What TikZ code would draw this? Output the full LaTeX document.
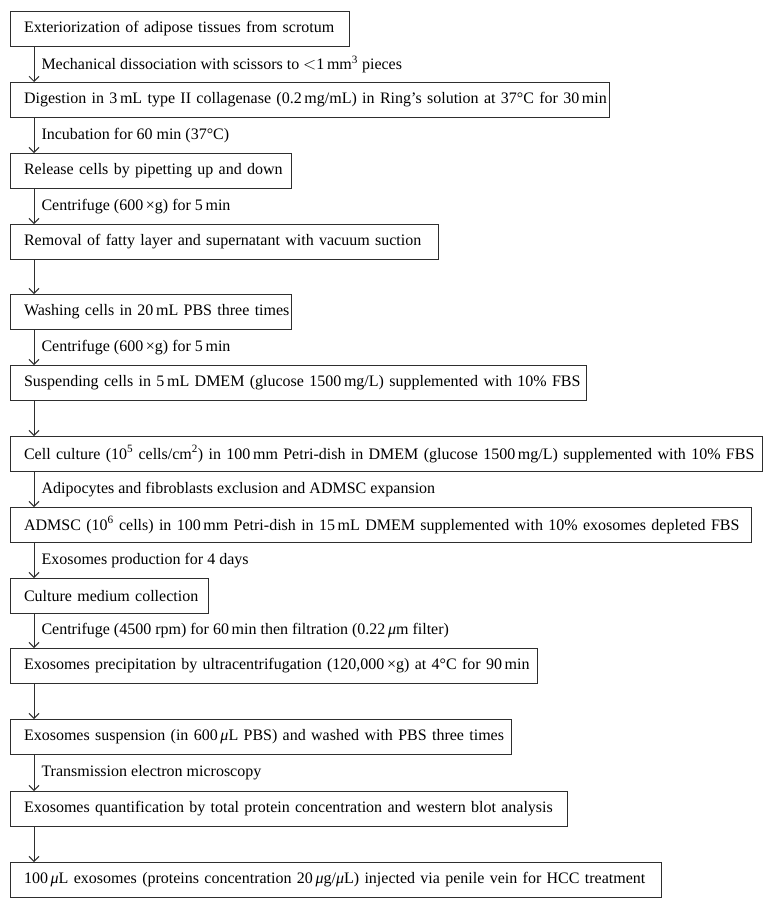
\documentclass[tikz,border=0pt]{standalone}
\usepackage{fontspec}
\setmainfont{Liberation Serif}
\usepackage{tikz}
\usetikzlibrary{arrows.meta}
\usetikzlibrary{positioning, calc}

\definecolor{linegray}{HTML}{2E2E2E}
\hfuzz=50pt
\tikzset{
    stepbox/.style={draw=linegray, line width=1.1pt, anchor=north west, inner xsep=13.5pt,
        inner ysep=0pt, minimum height=35pt, align=left, text=black,
        execute at begin node={\leavevmode\hbox\bgroup}, execute at end node={\egroup}},
    flow/.style={draw=linegray, line width=1pt, -{Straight Barb[length=5pt,width=10pt]}},
    steplabel/.style={anchor=west, inner xsep=7pt, text=black}
}

\begin{document}
\begin{tikzpicture}[x=1pt, y=-1pt, font=\fontsize{16}{19}\selectfont]
    \useasboundingbox (0,0) rectangle (774,907);
    \fill[white] (0,0) rectangle (774,907);
    \coordinate (ax) at (34,0);

    \begin{scope}[every node/.style={stepbox}]
    \node[text width=312pt] (S1) at (10,11) {Exteriorization of adipose tissues from scrotum};
    \node[text width=572pt] (S2) at (10,82) {Digestion in 3\,mL type II collagenase (0.2\,mg/mL) in Ring’s solution at 37\textdegree C for 30\,min};
    \node[text width=254pt] (S3) at (10,153) {Release cells by pipetting up and down};
    \node[text width=401pt] (S4) at (10,224) {Removal of fatty layer and supernatant with vacuum suction};
    \node[text width=254pt] (S5) at (10,294) {Washing cells in 20\,mL PBS three times};
    \node[text width=549pt] (S6) at (10,365) {Suspending cells in 5\,mL DMEM (glucose 1500\,mg/L) supplemented with 10\% FBS};
    \node[text width=725pt] (S7) at (10,436) {Cell culture (10\textsuperscript{5} cells/cm\textsuperscript{2}) in 100\,mm Petri-dish in DMEM (glucose 1500\,mg/L) supplemented with 10\% FBS};
    \node[text width=714pt] (S8) at (10,507) {ADMSC (10\textsuperscript{6} cells) in 100\,mm Petri-dish in 15\,mL DMEM supplemented with 10\% exosomes depleted FBS};
    \node[text width=171pt] (S9) at (10,578) {Culture medium collection};
    \node[text width=500pt] (S10) at (10,648) {Exosomes precipitation by ultracentrifugation (120,000\,×g) at 4\textdegree C for 90\,min};
    \node[text width=474pt] (S11) at (10,719) {Exosomes suspension (in 600\,\textit{μ}L PBS) and washed with PBS three times};
    \node[text width=530pt] (S12) at (10,791) {Exosomes quantification by total protein concentration and western blot analysis};
    \node[text width=624pt] (S13) at (10,862) {100\,\textit{μ}L exosomes (proteins concentration 20\,\textit{μ}g/\textit{μ}L) injected via penile vein for HCC treatment};
    \end{scope}

    \draw[flow] (S1.south -| ax) -- (S2.north -| ax) node[steplabel, midway] {Mechanical dissociation with scissors to $<$1\,mm\textsuperscript{3} pieces};
    \draw[flow] (S2.south -| ax) -- (S3.north -| ax) node[steplabel, midway] {Incubation for 60 min (37\textdegree C)};
    \draw[flow] (S3.south -| ax) -- (S4.north -| ax) node[steplabel, midway] {Centrifuge (600\,×g) for 5\,min};
    \draw[flow] (S4.south -| ax) -- (S5.north -| ax);
    \draw[flow] (S5.south -| ax) -- (S6.north -| ax) node[steplabel, midway] {Centrifuge (600\,×g) for 5\,min};
    \draw[flow] (S6.south -| ax) -- (S7.north -| ax);
    \draw[flow] (S7.south -| ax) -- (S8.north -| ax) node[steplabel, midway] {Adipocytes and fibroblasts exclusion and ADMSC expansion};
    \draw[flow] (S8.south -| ax) -- (S9.north -| ax) node[steplabel, midway] {Exosomes production for 4 days};
    \draw[flow] (S9.south -| ax) -- (S10.north -| ax) node[steplabel, midway] {Centrifuge (4500 rpm) for 60\,min then filtration (0.22\,\textit{μ}m filter)};
    \draw[flow] (S10.south -| ax) -- (S11.north -| ax);
    \draw[flow] (S11.south -| ax) -- (S12.north -| ax) node[steplabel, midway] {Transmission electron microscopy};
    \draw[flow] (S12.south -| ax) -- (S13.north -| ax);
\end{tikzpicture}
\end{document}
